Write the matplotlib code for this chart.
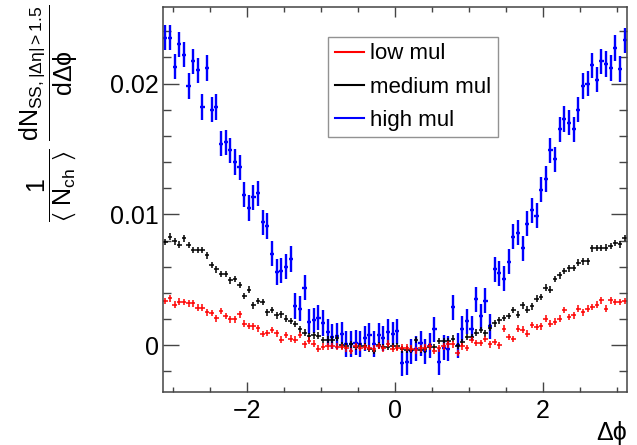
import numpy as np
import matplotlib
matplotlib.use('Agg')
import matplotlib.pyplot as plt
from matplotlib.lines import Line2D
from matplotlib.ticker import MultipleLocator

plt.rcParams['font.family'] = ['Liberation Sans', 'DejaVu Sans']
plt.rcParams['mathtext.fontset'] = 'custom'
plt.rcParams['mathtext.rm'] = 'Liberation Sans'
plt.rcParams['mathtext.it'] = 'Liberation Sans'
plt.rcParams['mathtext.bf'] = 'Liberation Sans:bold'
plt.rcParams['mathtext.fallback'] = 'stixsans'

# 100 bins in delta phi over [-pi, pi]
n_bins = 100
dphi_edges = np.linspace(-np.pi, np.pi, n_bins + 1)

low_mul = [
    0.00339, 0.00359, 0.00311, 0.00333, 0.00331, 0.00321, 0.00321, 0.00287, 0.00287, 0.00252,
    0.00247, 0.00206, 0.00262, 0.00222, 0.00197, 0.00197, 0.00236, 0.00166, 0.00148, 0.00145,
    0.00130, 0.00086, 0.00094, 0.00115, 0.00092, 0.00044, 0.00079, 0.00051, 0.00044, 0.00080,
    0.00008, 0.00036, 0.00013, -0.00025, -0.00010, -0.00008, -0.00006, -0.00010, -0.00013, -0.00023,
    -0.00042, -0.00006, -0.00021, -0.00013, -0.00021, -0.00025, -0.00006, -0.00023, 0.00013, -0.00025,
    -0.00021, -0.00017, -0.00017, -0.00025, -0.00038, -0.00023, -0.00017, -0.00009, -0.00042, -0.00023,
    -0.00009, 0.00008, 0.00008, -0.00059, -0.00009, -0.00021, 0.00041, 0.00019, 0.00019, 0.00048,
    0.00008, 0.00025, 0.00000, 0.00128, 0.00063, 0.00047, 0.00128, 0.00119, 0.00089, 0.00155,
    0.00140, 0.00145, 0.00204, 0.00166, 0.00181, 0.00204, 0.00268, 0.00216, 0.00229, 0.00281,
    0.00252, 0.00281, 0.00293, 0.00311, 0.00344, 0.00281, 0.00344, 0.00331, 0.00331, 0.00339,
]

medium_mul = [
    0.00790, 0.00830, 0.00795, 0.00770, 0.00816, 0.00765, 0.00727, 0.00727, 0.00727, 0.00688,
    0.00612, 0.00579, 0.00543, 0.00543, 0.00497, 0.00505, 0.00459, 0.00375, 0.00426, 0.00306,
    0.00340, 0.00329, 0.00252, 0.00268, 0.00229, 0.00237, 0.00203, 0.00184, 0.00161, 0.00122,
    0.00096, 0.00069, 0.00076, 0.00073, 0.00042, 0.00044, 0.00044, 0.00057, 0.00000, -0.00004,
    0.00008, -0.00013, -0.00004, -0.00008, -0.00025, -0.00044, 0.00000, -0.00013, -0.00013, -0.00008,
    -0.00008, -0.00031, -0.00034, -0.00034, 0.00041, -0.00033, -0.00031, -0.00013, -0.00013, 0.00031,
    0.00031, 0.00031, 0.00050, -0.00004, 0.00023, 0.00063, 0.00063, 0.00096, 0.00115, 0.00092,
    0.00134, 0.00168, 0.00191, 0.00210, 0.00223, 0.00268, 0.00235, 0.00306, 0.00273, 0.00298,
    0.00357, 0.00369, 0.00441, 0.00426, 0.00505, 0.00535, 0.00566, 0.00587, 0.00591, 0.00632,
    0.00642, 0.00642, 0.00740, 0.00744, 0.00744, 0.00747, 0.00757, 0.00782, 0.00772, 0.00821,
]

high_mul = [
    0.0235, 0.0235, 0.0213, 0.0230, 0.0222, 0.0198, 0.0217, 0.0210, 0.0182, 0.0212,
    0.0180, 0.0182, 0.0154, 0.0155, 0.0149, 0.0140, 0.0136, 0.0115, 0.0105, 0.0113,
    0.0116, 0.0094, 0.0091, 0.0070, 0.0056, 0.0057, 0.0060, 0.0066, 0.0030, 0.0028,
    0.0044, 0.0018, 0.0019, 0.0021, 0.0017, 0.0010, 0.00065, 0.0007, 0.00084, 0.0001,
    0.0001, 0.0002, 0.0001, 0.00054, 0.00076, 0.0001, 0.00076, 0.00054, 0.0010, 0.00084,
    0.00107, -0.00138, -0.0013, -0.00046, -0.00025, 0.00015, -0.00046, 0.0, 0.00122, -0.00128,
    -0.00017, -0.00025, 0.0029, 0.0, 0.00128, 0.00184, 0.00128, 0.0035, 0.0022, 0.0034,
    0.00145, 0.0058, 0.0055, 0.0051, 0.0064, 0.0083, 0.0086, 0.0074, 0.0093, 0.0103,
    0.0099, 0.0119, 0.0127, 0.0149, 0.0142, 0.0165, 0.0173, 0.0170, 0.0165, 0.0180,
    0.0198, 0.0200, 0.0214, 0.0203, 0.0217, 0.0215, 0.0212, 0.0227, 0.0211, 0.0233,
]

# statistical errors (roughly constant per sample)
low_err = 0.00025
medium_err = 0.00025
high_err = 0.00097

series_names = ['low mul', 'medium mul', 'high mul']
series_colors = ['#ff0000', '#000000', '#0000ff']


def main():
    centers = 0.5 * (dphi_edges[1:] + dphi_edges[:-1])
    half_width = 0.5 * (dphi_edges[1] - dphi_edges[0])

    fig = plt.figure(figsize=(6.37, 4.45), dpi=100)
    ax = fig.add_axes([163 / 637, 53 / 445, 464 / 637, 385.3 / 445])

    frame_col = '#444444'

    # draw order: high, medium, low (low on top)
    ax.errorbar(centers, high_mul, xerr=half_width * 0.9, yerr=high_err, fmt='none',
                ecolor=series_colors[2], elinewidth=1.7, capsize=0)
    ax.errorbar(centers, medium_mul, xerr=half_width, yerr=medium_err, fmt='none',
                ecolor=series_colors[1], elinewidth=1.1, capsize=0)
    ax.errorbar(centers, low_mul, xerr=half_width, yerr=low_err, fmt='none',
                ecolor=series_colors[0], elinewidth=1.1, capsize=0)

    ax.set_xlim(-np.pi, np.pi)
    ax.set_ylim(-0.00357, 0.02587)

    ax.set_xticks([-2, 0, 2])
    ax.set_xticklabels(['\u22122', '0', '2'])
    ax.xaxis.set_minor_locator(MultipleLocator(0.5))
    ax.set_yticks([0, 0.01, 0.02])
    ax.set_yticklabels(['0', '0.01', '0.02'])
    ax.yaxis.set_minor_locator(MultipleLocator(0.002))

    ax.tick_params(axis='both', which='both', direction='in', top=True, right=True,
                   colors=frame_col, labelcolor='black', labelsize=18)
    ax.tick_params(axis='x', which='major', length=7.2, width=1.0, pad=5)
    ax.tick_params(axis='x', which='minor', length=3.6, width=1.0)
    ax.tick_params(axis='y', which='major', length=11.5, width=1.0, pad=3)
    ax.tick_params(axis='y', which='minor', length=5.8, width=1.0)
    for sp in ax.spines.values():
        sp.set_color(frame_col)
        sp.set_linewidth(1.1)

    ax.text(1.0, -0.075, '\u0394\u03d5', transform=ax.transAxes, ha='right', va='top',
            fontsize=18)

    ylab = (r'$\dfrac{1}{\langle\ N_{\rm ch}\ \rangle}\ '
            r'\dfrac{dN_{\rm SS,|\Delta\eta|>1.5}}{d\Delta\phi}$')
    fig.text(49 / 637, 1 - 4 / 445, ylab, rotation=90, ha='center', va='top',
             fontsize=18)

    handles = [Line2D([], [], color=c, lw=1.5) for c in series_colors]
    leg = ax.legend(handles, series_names, loc='upper left',
                    bbox_to_anchor=(165 / 464, 1 - 30 / 385.3),
                    fontsize=16, frameon=True, fancybox=False, handlelength=1.3,
                    handletextpad=0.3, labelspacing=0.55, borderpad=0.3,
                    borderaxespad=0.0)
    leg.get_frame().set_edgecolor('#777777')
    leg.get_frame().set_linewidth(1.0)

    fig.savefig('out.png', dpi=100)


if __name__ == '__main__':
    main()
